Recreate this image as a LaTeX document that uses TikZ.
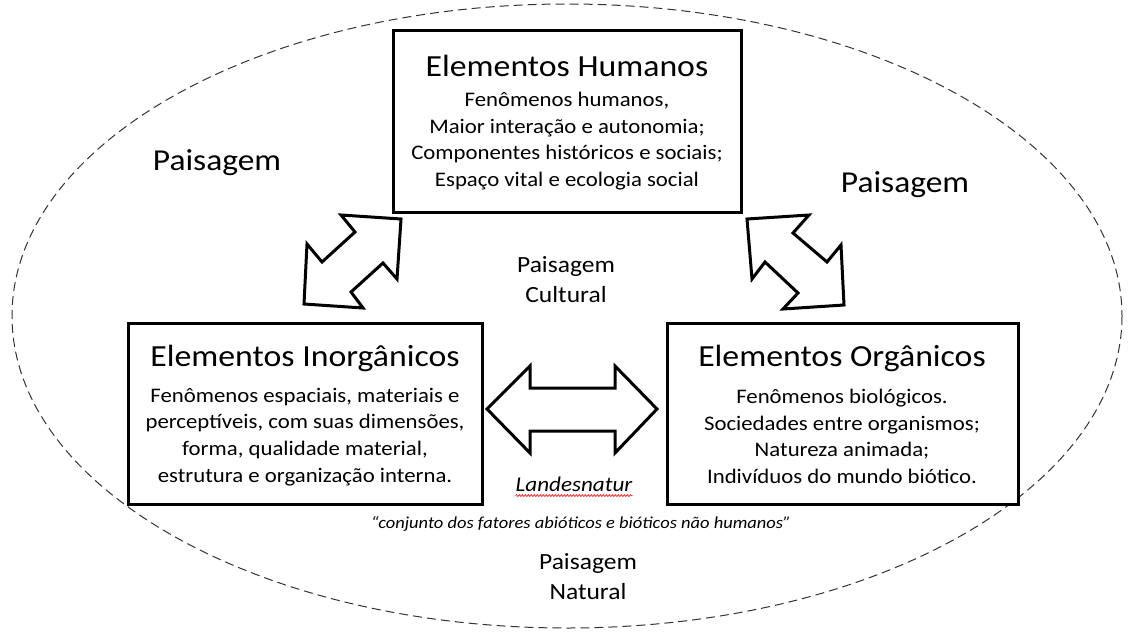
\documentclass[tikz,border=0pt]{standalone}
\usepackage{fontspec}
\setmainfont{Carlito}[FakeStretch=1.1]
\usetikzlibrary{decorations.pathmorphing}
\begin{document}
\begin{tikzpicture}[x=1pt,y=-1pt,
  box/.style={draw=black,line width=3pt,fill=white,inner sep=0pt},
  title/.style={font=\fontsize{30.7}{34}\selectfont,inner sep=0pt,anchor=center},
  body/.style={font=\fontsize{20.7}{26.7}\selectfont,align=center,inner sep=0pt,anchor=center},
  lbl/.style={font=\fontsize{23.2}{30}\selectfont,align=center,inner sep=0pt},
  blockarrow/.style={draw=black,line width=3pt,fill=white,line join=miter}]
\useasboundingbox (0,0) rectangle (1130,632);
\draw[dashed,line width=1pt,draw=black!80,dash pattern=on 9pt off 5pt] (567,316) ellipse [x radius=555, y radius=312];

\node[box,minimum width=348pt,minimum height=182pt] (hum) at (567,121) {};
\node[box,minimum width=354pt,minimum height=181pt] (inorg) at (305,413.5) {};
\node[box,minimum width=351pt,minimum height=181pt] (org) at (842.5,413.5) {};

\node[title] (humT) at (567,66) {Elementos Humanos};
\node[body] (humB) at (567,141) {Fenômenos humanos,\\Maior interação e autonomia;\\Componentes históricos e sociais;\\Espaço vital e ecologia social};

\node[title] (inorgT) at (305,358) {Elementos Inorgânicos};
\node[body] (inorgB) at (305,437) {Fenômenos espaciais, materiais e\\perceptíveis, com suas dimensões,\\forma, qualidade material,\\estrutura e organização interna.};

\node[title] (orgT) at (842,358) {Elementos Orgânicos};
\node[body] (orgB) at (842,436.5) {Fenômenos biológicos.\\Sociedades entre organismos;\\Natureza animada;\\Indivíduos do mundo biótico.};

% block arrows
\draw[blockarrow] (401,219) -- (397,279) -- (383,263) -- (351,292) -- (363,308) -- (304,304) -- (307,244) -- (322,262) -- (355,232) -- (341,215) -- cycle;
\draw[blockarrow] (747,219) -- (809,215) -- (793,233) -- (827,262) -- (841,245) -- (844,305) -- (783,309) -- (798,293) -- (765,262) -- (752,279) -- cycle;
\draw[blockarrow] (487,409) -- (530,366) -- (530,388) -- (615,388) -- (615,366) -- (657,409) -- (615,453) -- (615,431) -- (530,431) -- (530,453) -- cycle;

\node[font=\fontsize{30.4}{34}\selectfont,inner sep=0pt] (pl) at (217,163) {Paisagem};
\node[font=\fontsize{30.4}{34}\selectfont,inner sep=0pt] (pr) at (905,185) {Paisagem};
\node[lbl] (cult) at (566,280) {Paisagem\\Cultural};
\node[lbl] (nat) at (588,577) {Paisagem\\Natural};
\node[font=\fontsize{21}{24}\selectfont\itshape,inner sep=0pt] (land) at (574,484) {Landesnatur};
\draw[red,line width=0.6pt,decorate,decoration={snake,amplitude=1pt,segment length=3pt}] ([yshift=-4pt]land.south west) -- ([yshift=-4pt]land.south east);
\node[font=\fontsize{16.8}{20}\selectfont\itshape,inner sep=0pt] (quote) at (581,524) {“conjunto dos fatores abióticos e bióticos não humanos”};
\end{tikzpicture}
\end{document}
